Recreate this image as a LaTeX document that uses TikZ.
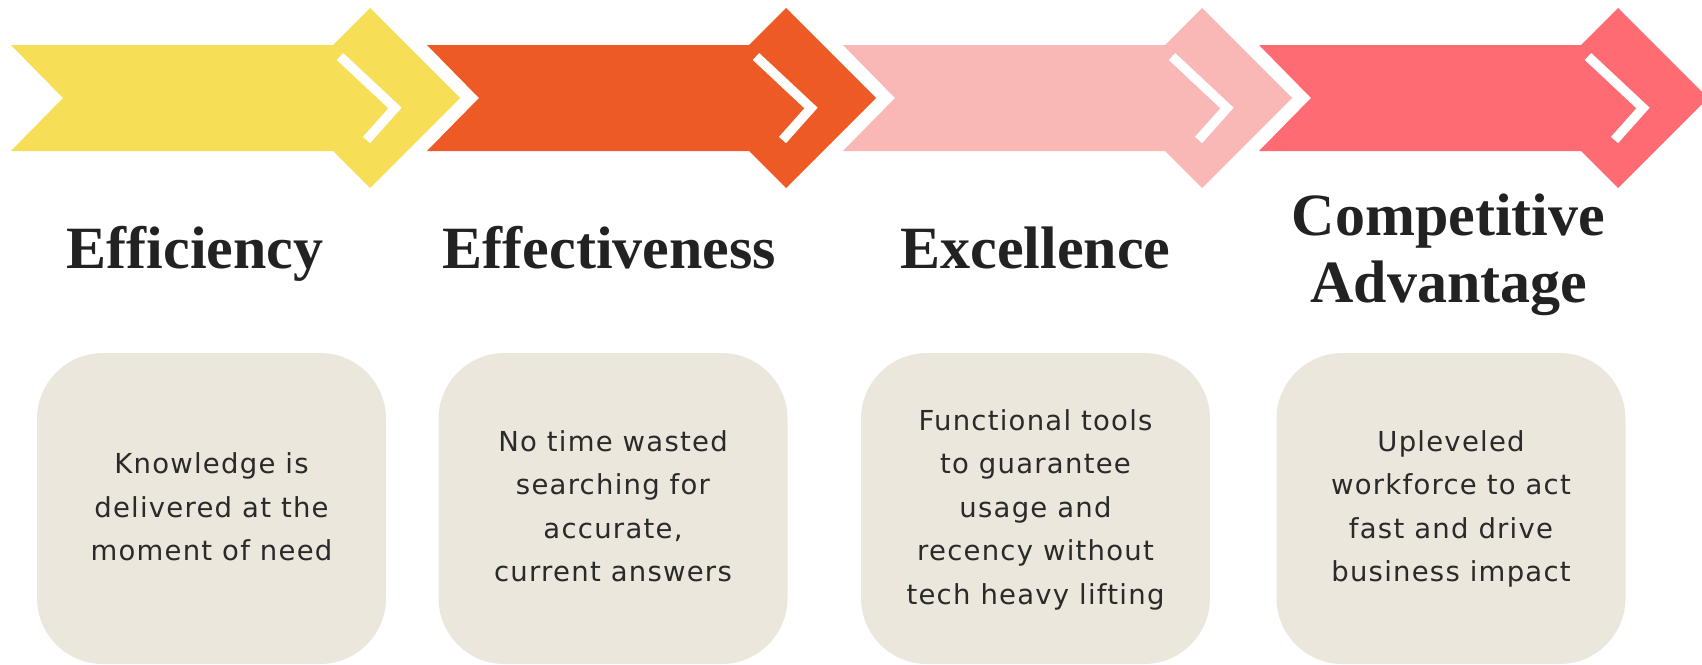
\documentclass[tikz,border=0pt]{standalone}
\usepackage{fontspec}
\setmainfont{Liberation Serif}
\newfontfamily\bodyfont[LetterSpace=4.5]{DejaVu Sans}
\definecolor{cyellow}{HTML}{F6DE57}
\definecolor{corange}{HTML}{EE5A25}
\definecolor{cpink}{HTML}{F9B7B6}
\definecolor{cred}{HTML}{FF6B73}
\definecolor{boxfill}{HTML}{ECE7DC}
\definecolor{headcol}{HTML}{222222}
\definecolor{bodycol}{HTML}{2A2A2A}
\tikzset{
  cardbox/.style={fill=boxfill, draw=none, rounded corners=66pt, minimum width=349pt, minimum height=311pt, inner sep=0pt},
  headtext/.style={font=\bfseries\fontsize{60}{66}\selectfont, text=headcol, inner sep=0pt},
  bodytext/.style={font=\bodyfont\fontsize{27.5}{43.5}\selectfont, text=bodycol, align=center, inner sep=0pt},
  chevstroke/.style={draw=white, line width=9.5pt, line join=miter, line cap=butt}
}
\begin{document}
\begin{tikzpicture}[x=1pt,y=-1pt]
\useasboundingbox (0,0) rectangle (1702,664);
\fill[white] (0,0) rectangle (1702,664);
% arrows
\foreach \xo/\col in {11/cyellow, 427/corange, 843/cpink, 1259/cred}{
  \begin{scope}[shift={(\xo,0)}]
    \fill[\col] (0,45) -- (322,45) -- (359,8) -- (449,98) -- (359,188) -- (322,151) -- (0,151) -- (52,98) -- cycle;
    \draw[chevstroke] (329,56.5) -- (384,108) -- (355.5,140);
  \end{scope}
}
% headings
\node[headtext, anchor=base] (h1) at (195,268) {Efficiency};
\node[headtext, anchor=base] (h2) at (609.5,268) {Effectiveness};
\node[headtext, anchor=base] (h3) at (1035.5,268) {Excellence};
\node[headtext, anchor=base] (h4a) at (1448.5,235.5) {Competitive};
\node[headtext, anchor=base] (h4b) at (1449,302) {Advantage};
% cards
\node[cardbox] (b1) at (211.5,508.5) {};
\node[cardbox] (b2) at (613,508.5) {};
\node[cardbox] (b3) at (1035.5,508.5) {};
\node[cardbox] (b4) at (1451,508.5) {};
% body texts (base anchor = baseline of last line)
\node[bodytext, anchor=base] (t1) at (211.5,560.5) {Knowledge is\\delivered at the\\moment of need};
\node[bodytext, anchor=base] (t2) at (613,581.75) {No time wasted\\searching for\\accurate,\\current answers};
\node[bodytext, anchor=base] (t3) at (1035.5,604) {Functional tools\\to guarantee\\usage and\\recency without\\tech heavy lifting};
\node[bodytext, anchor=base] (t4) at (1451,581.75) {Upleveled\\workforce to act\\fast and drive\\business impact};
\end{tikzpicture}
\end{document}
